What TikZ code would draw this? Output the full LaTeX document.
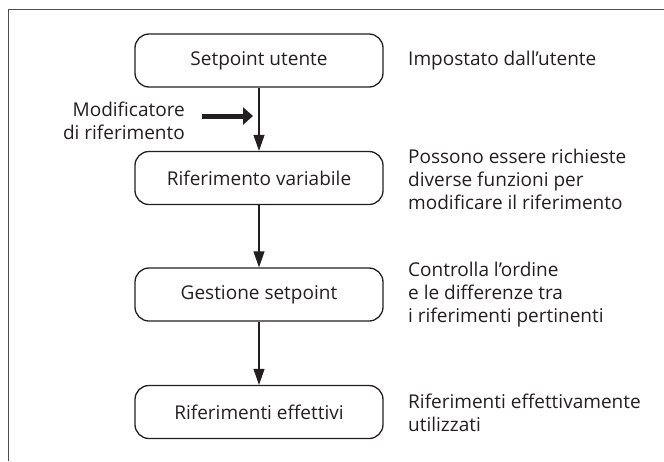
\documentclass[tikz,border=0pt]{standalone}
\usepackage{fontspec}
\setmainfont{Open Sans}
\usetikzlibrary{arrows.meta}
\definecolor{ink}{HTML}{231F20}
\begin{document}
\begin{tikzpicture}[x=1pt,y=-1pt,
  font=\fontsize{19}{23}\selectfont, text=ink,
  stepbox/.style={draw=ink, line width=1.3pt, rounded corners=14pt,
    minimum width=248pt, minimum height=53pt, inner sep=0pt},
  note/.style={anchor=west, align=left, inner sep=0pt},
  flow/.style={draw=ink, line width=1.1pt, -{Triangle[length=16pt,width=11pt]}},
  fat/.style={draw=ink, line width=5pt, -{Triangle[length=10pt,width=17pt]}}]
\useasboundingbox (0,0) rectangle (664,461);
\draw[line width=1pt, draw=ink!80] (8,461) -- (8,9) -- (664,9);

\node[stepbox] (b1) at (259,60.5) {Setpoint utente};
\node[stepbox] (b2) at (259,178) {Riferimento variabile};
\node[stepbox] (b3) at (259,294.5) {Gestione setpoint};
\node[stepbox] (b4) at (259,412) {Riferimenti effettivi};

\node[note] (n1) at (408,61) {Impostato dall’utente};
\node[note] (n2) at (408,179) {Possono essere richieste\\diverse funzioni per\\modificare il riferimento};
\node[note] (n3) at (408,295) {Controlla l’ordine\\e le differenze tra\\i riferimenti pertinenti};
\node[note] (n4) at (408,413) {Riferimenti effettivamente\\utilizzati};

\node[anchor=east, align=right, inner sep=0pt] (mod) at (185,121) {Modificatore\\di riferimento};
\coordinate (modtip) at (253,116);

\draw[flow] (b1) -- (b2);
\draw[flow] (b2) -- (b3);
\draw[flow] (b3) -- (b4);
\draw[fat] (202,116) -- (modtip);
\end{tikzpicture}
\end{document}
